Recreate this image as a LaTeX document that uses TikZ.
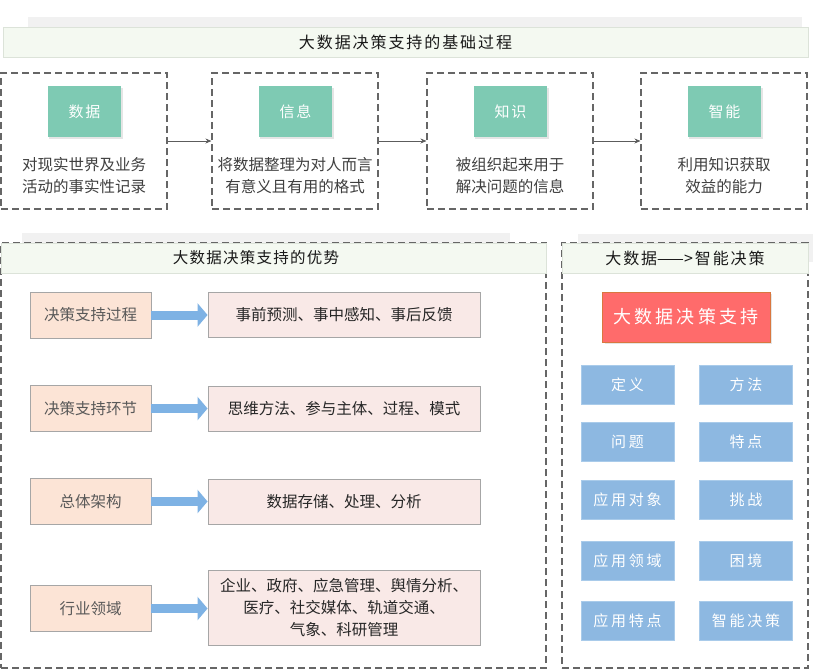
\documentclass[tikz,border=0pt]{standalone}
\usepackage{fontspec}
\setmainfont{Noto Sans CJK SC}
\usetikzlibrary{arrows.meta}
\definecolor{gbox}{HTML}{7ECAB3}
\definecolor{tbar}{HTML}{F4F9F1}
\definecolor{tbarline}{HTML}{DCE3D9}
\definecolor{ofill}{HTML}{FCE4D6}
\definecolor{pfill}{HTML}{F9E9E7}
\definecolor{bdr}{HTML}{A6A6A6}
\definecolor{barrow}{HTML}{7EB2E4}
\definecolor{rfill}{HTML}{FF6B6B}
\definecolor{rline}{HTML}{D9773F}
\definecolor{bbox}{HTML}{8DB8E1}
\definecolor{bline}{HTML}{A9CBEA}
\definecolor{dline}{HTML}{666666}
\definecolor{txt}{HTML}{3F3F3F}
\definecolor{shad}{HTML}{F1F1F1}
\tikzset{
  x=1pt,y=-1pt,
  dbox/.style={draw=dline,dash pattern=on 7pt off 4pt,line width=1.1pt,rectangle,inner sep=0pt},
  tbarbox/.style={draw=tbarline,fill=tbar,line width=0.8pt,rectangle,inner sep=0pt,minimum height=30pt},
  ttext/.style={inner sep=0pt,text=black!90,font={\fontsize{15.5}{18}\selectfont\addfontfeature{LetterSpace=8}}},
  gsq/.style={fill=gbox,rectangle,inner sep=0pt,minimum width=73pt,minimum height=51pt,text=white,
     font={\fontsize{15}{18}\selectfont\addfontfeature{LetterSpace=12}}},
  desc/.style={align=center,text=txt,font={\fontsize{15.5}{22}\selectfont},inner sep=0pt},
  thinarrow/.style={draw=dline!90!black,line width=0.8pt,-{Stealth[length=6pt,width=5pt]}},
  obox/.style={draw=bdr,fill=ofill,line width=0.9pt,rectangle,inner sep=0pt,minimum width=121pt,minimum height=46pt,
     text=black!65,font={\fontsize{15.5}{18}\selectfont}},
  pbox/.style={draw=bdr,fill=pfill,line width=0.9pt,rectangle,inner sep=0pt,minimum width=272pt,minimum height=45pt,
     text=black!85,align=center,font={\fontsize{15.5}{22}\selectfont}},
  bigarrow/.style={draw=barrow,line width=9pt,-{Triangle[length=10pt,width=23pt]}},
  rbox/.style={draw=rline,fill=rfill,line width=0.9pt,rectangle,inner sep=0pt,minimum width=168pt,minimum height=50pt,
     text=white,font={\fontsize{18}{22}\selectfont\addfontfeature{LetterSpace=18}}},
  bbx/.style={draw=bline,fill=bbox,line width=0.9pt,rectangle,inner sep=0pt,minimum width=93pt,minimum height=39pt,
     text=white,font={\fontsize{15}{18}\selectfont\addfontfeature{LetterSpace=18}}},
  shadowbox/.style={fill=shad,draw=none}
}
\begin{document}
\begin{tikzpicture}
\useasboundingbox (0,0) rectangle (830,672);
\fill[white] (0,0) rectangle (830,672);

% ---------- top section ----------
\fill[shadowbox] (28,17) rectangle (802,45);
\node[tbarbox,minimum width=805pt] (t1) at (405.5,42) {};
\node[ttext,font={\fontsize{16}{18}\selectfont\addfontfeature{LetterSpace=12}}] (t1t) at (t1) {大数据决策支持的基础过程};

\node[dbox,minimum width=166pt,minimum height=136pt] (b1) at (84,141) {};
\node[dbox,minimum width=166pt,minimum height=136pt] (b2) at (295,141) {};
\node[dbox,minimum width=166pt,minimum height=136pt] (b3) at (510,141) {};
\node[dbox,minimum width=166pt,minimum height=136pt] (b4) at (724,141) {};

\foreach \cx in {84.5,295.5,510.5,724.5}{\fill[black!10] (\cx-35.5,88) rectangle (\cx+38.5,139);}
\node[gsq] (g1) at (84.5,111.5) {数据};
\node[gsq] (g2) at (295.5,111.5) {信息};
\node[gsq] (g3) at (510.5,111.5) {知识};
\node[gsq] (g4) at (724.5,111.5) {智能};

\node[desc] (d1) at (84,176) {对现实世界及业务\\活动的事实性记录};
\node[desc] (d2) at (295,176) {将数据整理为对人而言\\有意义且有用的格式};
\node[desc] (d3) at (510,176) {被组织起来用于\\解决问题的信息};
\node[desc] (d4) at (724,176) {利用知识获取\\效益的能力};

\draw[thinarrow] (b1.east) -- (b2.west);
\draw[thinarrow] (b2.east) -- (b3.west);
\draw[thinarrow] (b3.east) -- (b4.west);

% ---------- middle-left section ----------
\fill[shadowbox] (22,233) rectangle (510,262);
\node[dbox,minimum width=545pt,minimum height=425pt] (lp) at (273.5,455.5) {};
\node[tbarbox,minimum width=545pt] (t2) at (273.5,258) {};
\node[ttext] (t2t) at (256,258) {大数据决策支持的优势};

\node[obox] (o1) at (90.5,315) {决策支持过程};
\node[obox] (o2) at (90.5,408.5) {决策支持环节};
\node[obox] (o3) at (90.5,501.5) {总体架构};
\node[obox] (o4) at (90.5,608.5) {行业领域};

\node[pbox] (p1) at (344,314.5) {事前预测、事中感知、事后反馈};
\node[pbox] (p2) at (344,408.5) {思维方法、参与主体、过程、模式};
\node[pbox] (p3) at (344,501.5) {数据存储、处理、分析};
\node[pbox,minimum height=75pt] (p4) at (344,607.5) {企业、政府、应急管理、舆情分析、\\医疗、社交媒体、轨道交通、\\气象、科研管理};

\draw[bigarrow] (o1.east) -- (p1.west|-o1.east);
\draw[bigarrow] (o2.east) -- (p2.west|-o2.east);
\draw[bigarrow] (o3.east) -- (p3.west|-o3.east);
\draw[bigarrow] (o4.east) -- (p4.west|-o4.east);

% ---------- right section ----------
\fill[shadowbox] (578,234) rectangle (813,262);
\node[dbox,minimum width=246pt,minimum height=425pt] (rp) at (685,455.5) {};
\node[tbarbox,minimum width=246pt] (t3) at (685,258) {};
\node[ttext,font={\fontsize{16}{18}\selectfont}] (t3t) at (685,258) {{\addfontfeature{LetterSpace=12}大数据}——{\addfontfeature{LetterSpace=12}>智能决策}};

\fill[black!10] (605,294) rectangle (772,344);
\node[rbox] (r0) at (686,317) {大数据决策支持};

\node[bbx] (q1) at (627.5,384.5) {定义};
\node[bbx] (q2) at (746,384.5) {方法};
\node[bbx] (q3) at (627.5,441.5) {问题};
\node[bbx] (q4) at (746,441.5) {特点};
\node[bbx] (q5) at (627.5,499.5) {应用对象};
\node[bbx] (q6) at (746,499.5) {挑战};
\node[bbx] (q7) at (627.5,560.5) {应用领域};
\node[bbx] (q8) at (746,560.5) {困境};
\node[bbx] (q9) at (627.5,620.5) {应用特点};
\node[bbx] (q10) at (746,620.5) {智能决策};
\end{tikzpicture}
\end{document}
